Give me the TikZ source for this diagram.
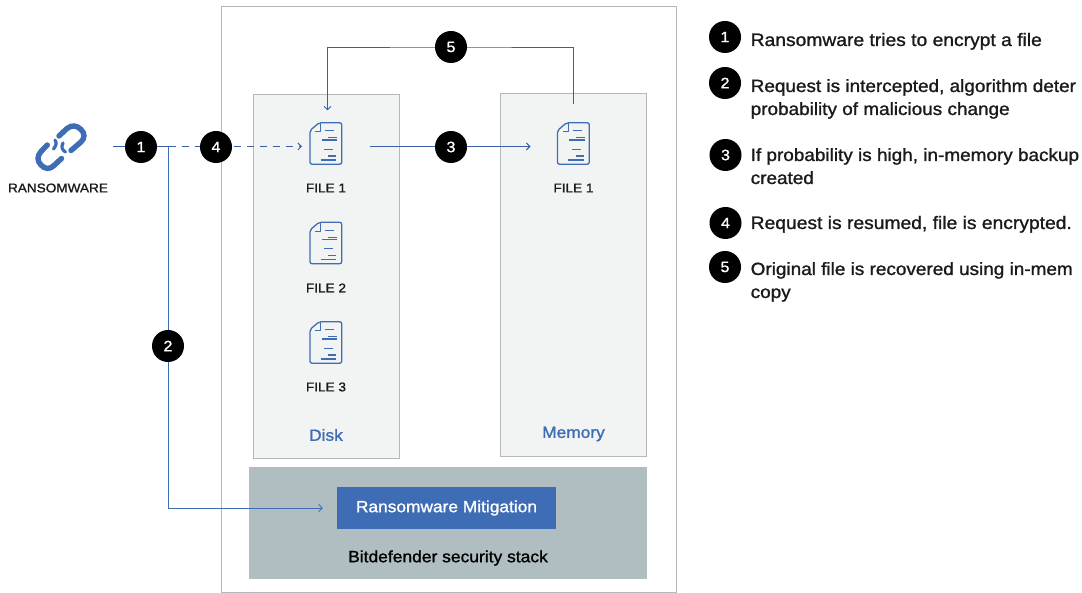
\documentclass[tikz,border=0pt]{standalone}
\usepackage{fontspec}
\setmainfont{Liberation Sans}
\usetikzlibrary{arrows.meta}
\definecolor{linkblue}{HTML}{3F6DB5}
\definecolor{linedark}{HTML}{3A5FA8}
\definecolor{panel}{HTML}{F2F4F3}
\definecolor{panelline}{HTML}{B5B8B8}
\definecolor{stack}{HTML}{B0BEC1}
\definecolor{inktext}{HTML}{1A1A1A}
\newfontfamily\medfont[FakeBold=1.2,FakeStretch=1.07]{Liberation Sans}
\tikzset{
  x=1pt,y=-1pt,
  num/.style={circle,fill=black,text=white,minimum size=32pt,inner sep=0pt,font=\medfont\fontsize{15}{15}\selectfont},
  flow/.style={draw=linedark,line width=0.9pt},
  tip/.style={-{Straight Barb[length=3.5pt,width=7pt]}},
  panelbox/.style={draw=panelline,fill=panel,line width=0.9pt},
  fileicon/.style={minimum width=32pt,minimum height=42pt,inner sep=0pt,outer sep=0pt},
  filelabel/.style={text=inktext,font=\medfont\fontsize{12.7}{13}\selectfont},
  boxlabel/.style={text=linkblue,font=\medfont\fontsize{16.2}{17}\selectfont},
  legend/.style={anchor=base west,align=left,inner sep=0pt,text=inktext,font=\medfont\fontsize{18}{23}\selectfont},
  legendfit/.style={legend,font=\medfont\fontsize{17.7}{23}\selectfont},
  glyph/.style={draw=linkblue,line width=1.3pt,line join=round},
  filepic/.pic={
    \draw[glyph,rounded corners=2pt] (-7,-20.7) -- (15.7,-20.7) -- (15.7,20.7) -- (-16,20.7) -- (-16,-13) -- cycle;
    \draw[glyph] (-5.3,-20.7) -- (-5.3,-11.7) -- (-11,-11.7);
    \draw[glyph] (-1,-12.8) -- (8,-12.8) (2.3,-5.8) -- (11.3,-5.8) (-4.3,-3.5) -- (11.3,-3.5)
      (-2,5.8) -- (7.3,5.8) (2.3,12.5) -- (10,12.5) (-5.3,16.5) -- (10,16.5);
  }
}
\begin{document}
\begin{tikzpicture}
\useasboundingbox (0,0) rectangle (1082,593);
\fill[white] (0,0) rectangle (1082,593);
% frame and panels
\node[draw=panelline,line width=0.9pt,minimum width=455pt,minimum height=586pt,inner sep=0pt] (frame) at (448.5,299) {};
\node[panelbox,minimum width=146pt,minimum height=364pt,inner sep=0pt] (disk) at (326,276) {};
\node[panelbox,minimum width=146pt,minimum height=363pt,inner sep=0pt] (memory) at (573.5,274.5) {};
\node[fill=stack,minimum width=398pt,minimum height=112pt,inner sep=0pt] (sstack) at (448,523) {};
\node[fill=linkblue,text=white,minimum width=219pt,minimum height=42pt,inner sep=0pt,font=\medfont\fontsize{16.2}{17}\selectfont] (mitig) at (446.5,508) {\raisebox{-1pt}{Ransomware Mitigation}};
\node[text=black,font=\medfont\fontsize{16.3}{17}\selectfont] (stacklabel) at (448,558) {Bitdefender security stack};
\node[boxlabel] (disklabel) at (326,435) {Disk};
\node[boxlabel] (memlabel) at (573.5,434) {Memory};
% ransomware icon
\coordinate (src) at (113,146.5);
\draw[draw=linkblue,line width=5.4pt,line cap=round] (59,136) -- (67,128.5) .. controls (72,124.5) and (77,125.5) .. (81,129.5) .. controls (85,133.5) and (85,138) .. (81,142) -- (71,150.5);
\draw[draw=linkblue,line width=5.4pt,line cap=round] (47.3,145) -- (41,151.5) .. controls (37,156) and (37,161) .. (41,165) .. controls (45,169.5) and (50,169.5) .. (54,165.5) -- (61.5,158.5);
\draw[draw=linkblue,line width=3.2pt,line cap=round] (55,140) .. controls (57,143) and (56,146) .. (53.5,149);
\draw[draw=linkblue,line width=3.2pt,line cap=round] (63,143) .. controls (61,147) and (62,150) .. (65.5,152);
\node[filelabel] (rlabel) at (58,188) {RANSOMWARE};
% files
\node[fileicon] (f1) at (326,143.5) {};
\node[fileicon] (f2) at (326,243) {};
\node[fileicon] (f3) at (326,342.5) {};
\node[fileicon] (m1) at (573.5,143.5) {};
\pic at (f1) {filepic};
\pic at (f2) {filepic};
\pic at (f3) {filepic};
\pic at (m1) {filepic};
\node[filelabel] (f1l) at (326,188) {FILE 1};
\node[filelabel] (f2l) at (326,288) {FILE 2};
\node[filelabel] (f3l) at (326,387) {FILE 3};
\node[filelabel] (m1l) at (573.5,188) {FILE 1};
% connectors
\coordinate (junc) at (168.5,146.5);
\coordinate (top5) at (451,47);
\draw[flow] (src) -- (junc);
\draw[flow,tip,dash pattern=on 7pt off 6pt] (junc) -- ([xshift=-8pt,yshift=-3pt]f1.west);
\draw[flow,tip,draw=linkblue] (junc) |- ([xshift=-14pt]mitig.west);
\draw[flow,tip] ([xshift=44pt,yshift=-3pt]f1.center) -- ([xshift=-27pt,yshift=-3pt]m1.west);
\draw[flow,tip] ([yshift=18pt]m1.north) |- (top5) -| ([xshift=1.5pt,yshift=12pt]f1.north);
% numbered circles
\node[num] (n1) at (141,147) {1};
\node[num] (n4) at (216,147) {4};
\node[num] (n3) at (451,147) {3};
\node[num] (n5) at (top5) {5};
\node[num] (n2) at (168,346) {2};
% legend
\node[num] (l1) at (725,37) {1};
\node[num] (l2) at (725,83) {2};
\node[num] (l3) at (725.5,155) {3};
\node[num] (l4) at (725.5,223) {4};
\node[num] (l5) at (725,267) {5};
\node[legend] (t1) at (750.5,46) {Ransomware tries to encrypt a file};
\node[legendfit] (t2) at (750.5,115) {Request is intercepted, algorithm deter\\probability of malicious change};
\node[legendfit] (t3) at (750.5,184) {If probability is high, in-memory backup\\created};
\node[legend] (t4) at (750.5,229) {Request is resumed, file is encrypted.};
\node[legendfit] (t5) at (750.5,298) {Original file is recovered using in-mem\\copy};
\end{tikzpicture}
\end{document}
